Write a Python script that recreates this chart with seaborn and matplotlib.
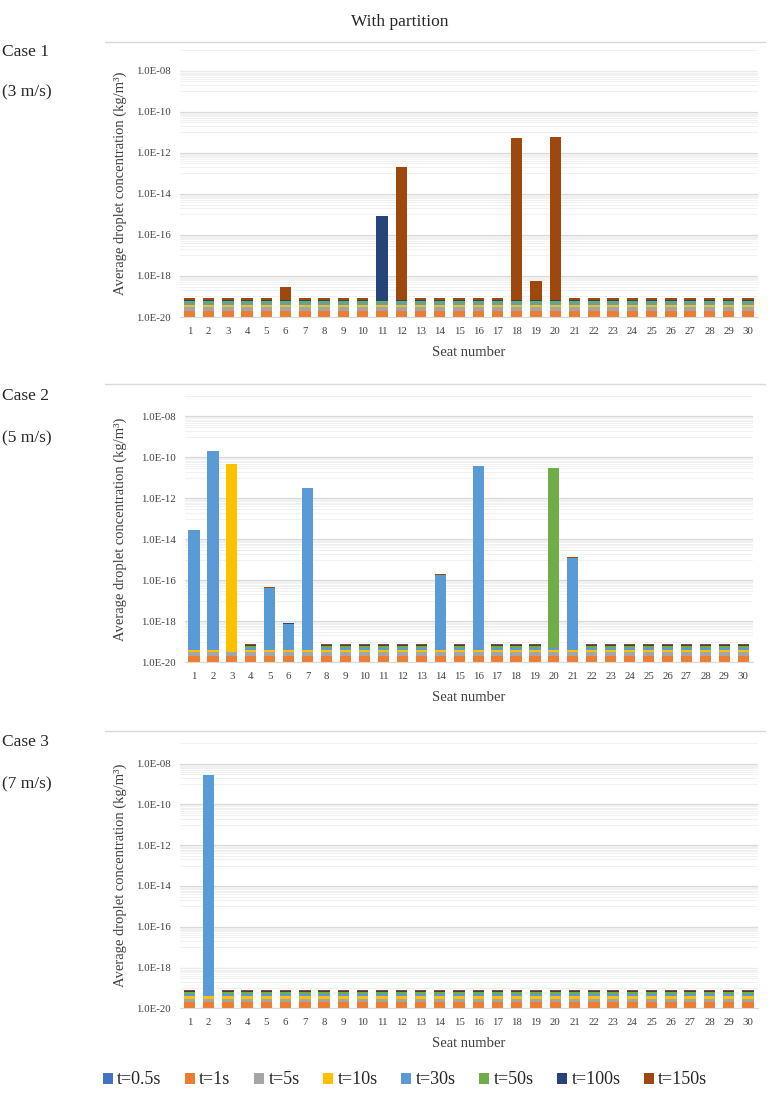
import numpy as np
import pandas as pd
import matplotlib
matplotlib.use("Agg")
import matplotlib.pyplot as plt
from matplotlib.patches import Patch
from matplotlib.lines import Line2D
from matplotlib.ticker import FixedLocator, FuncFormatter, NullFormatter
import seaborn as sns

# ---------------------------------------------------------------
# Data
# ---------------------------------------------------------------
seats = list(range(1, 31))
series = ["t=0.5s", "t=1s", "t=5s", "t=10s", "t=30s", "t=50s", "t=100s", "t=150s"]
colors = ["#4472C4", "#ED7D31", "#A5A5A5", "#FFC000",
          "#5B9BD5", "#70AD47", "#264478", "#9E480E"]

# every seat / time step sits at this floor value unless listed below
floor_value = 1e-20

case1_peaks = {
    "t=100s": {11: 8.0e-16},
    "t=150s": {6: 2.1e-19, 11: 5.0e-17, 12: 2.0e-13, 18: 5.2e-12,
               19: 4.8e-19, 20: 5.9e-12},
}
case2_peaks = {
    "t=10s": {3: 4.5e-11},
    "t=30s": {1: 2.8e-14, 2: 2.0e-10, 3: 3.0e-12, 5: 4.2e-17, 6: 6.8e-19,
              7: 3.2e-12, 14: 1.8e-16, 16: 3.7e-11, 21: 1.2e-15},
    "t=50s": {20: 3.1e-11},
    "t=100s": {6: 8.0e-20},
    "t=150s": {5: 3.0e-18, 6: 4.0e-20, 14: 1.2e-17, 21: 8.0e-17},
}
case3_peaks = {
    "t=30s": {2: 2.9e-9},
}

case_titles = [("Case 1", "(3 m/s)"), ("Case 2", "(5 m/s)"), ("Case 3", "(7 m/s)")]
y_major = [1e-20, 1e-18, 1e-16, 1e-14, 1e-12, 1e-10, 1e-08]
y_minor = [k * 10.0 ** e for e in range(-19, -6, 2) for k in range(1, 10)]


def build_frame(peaks):
    rows = []
    for s in series:
        for seat in seats:
            rows.append({"seat": seat, "series": s,
                         "value": peaks.get(s, {}).get(seat, floor_value)})
    df = pd.DataFrame(rows)
    df["series"] = pd.Categorical(df["series"], categories=series, ordered=True)
    df = df.sort_values(["seat", "series"])
    df["cum"] = df.groupby("seat")["value"].cumsum()
    return df


# ---------------------------------------------------------------
# Figure
# ---------------------------------------------------------------
sns.set_style("white")
plt.rcParams["font.family"] = ["Liberation Serif", "DejaVu Serif"]

W, H = 769, 1104
fig = plt.figure(figsize=(W / 100, H / 100), dpi=100)


def fx(px):
    return px / W


def fy(py):
    return 1 - py / H


# panel boxes in pixels: left, right, top, bottom
panels = [(179.7, 757.6, 50, 317), (184.5, 752.8, 396, 662), (179.7, 757.6, 743.3, 1008.3)]
sep_y = [42, 384, 731]
case_y = [(52, 92), (396, 438), (742, 784)]

for i, peaks in enumerate([case1_peaks, case2_peaks, case3_peaks]):
    l, r, t, b = panels[i]
    ax = fig.add_axes([fx(l), fy(b), fx(r) - fx(l), (b - t) / H])
    df = build_frame(peaks)

    # draw cumulative heights from the top series down so the lower ones cover
    for s, c in reversed(list(zip(series, colors))):
        sub = df[df["series"] == s]
        sns.barplot(data=sub, x="seat", y="cum", order=seats, color=c,
                    saturation=1, errorbar=None, width=0.59, linewidth=0, ax=ax)

    ax.set_yscale("log")
    ax.set_ylim(1e-20, 1e-7)
    ax.set_xlim(-0.5, 29.5)
    ax.yaxis.set_major_locator(FixedLocator(y_major))
    ax.yaxis.set_major_formatter(FuncFormatter(lambda v, p: f"{v:.1E}"))
    ax.yaxis.set_minor_locator(FixedLocator(y_minor))
    ax.yaxis.set_minor_formatter(NullFormatter())
    ax.set_axisbelow(True)
    ax.grid(axis="y", which="major", color="#d9d9d9", lw=0.9)
    ax.grid(axis="y", which="minor", color="#efefef", lw=0.6)
    ax.tick_params(axis="both", which="both", length=0, labelsize=7.8, colors="#404040")
    ax.tick_params(axis="y", pad=6.5)
    ax.tick_params(axis="x", pad=7)
    for sp in ["top", "right", "left"]:
        ax.spines[sp].set_visible(False)
    ax.spines["bottom"].set_color("#d9d9d9")

    ax.set_xlabel("Seat number", fontsize=10.5, color="#404040")
    ax.set_ylabel("Average droplet concentration (kg/m³)", fontsize=10.5, color="#404040")
    ax.xaxis.set_label_coords(0.5, -29 / (b - t))
    ax.yaxis.set_label_coords((127 - l) / (r - l), 0.5)

    fig.add_artist(Line2D([fx(105), fx(765)], [fy(sep_y[i])] * 2, color="#d9d9d9", lw=1))
    fig.text(fx(2), fy(case_y[i][0]), case_titles[i][0], fontsize=12.5, va="center", ha="left")
    fig.text(fx(2), fy(case_y[i][1]), case_titles[i][1], fontsize=12.5, va="center", ha="left")

fig.text(fx(400), fy(22), "With partition", fontsize=12.5, ha="center", va="center")

handles = [Patch(facecolor=c, edgecolor="none") for c in colors]
fig.legend(handles, series, loc="center", bbox_to_anchor=(fx(405), fy(1080)),
           ncol=8, frameon=False, fontsize=13, handlelength=0.55, handleheight=0.55,
           handletextpad=0.25, columnspacing=1.3)

fig.savefig("out.png", dpi=100)
